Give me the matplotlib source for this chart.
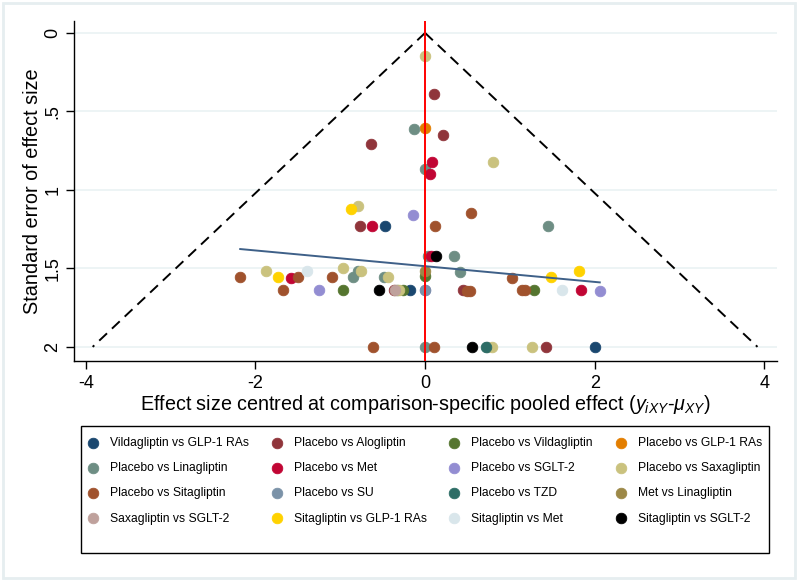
import numpy as np
import matplotlib
matplotlib.use("Agg")
import matplotlib.pyplot as plt
from matplotlib.patches import Rectangle

plt.rcParams['font.family'] = ['Liberation Sans', 'DejaVu Sans']
plt.rcParams['mathtext.fontset'] = 'custom'
plt.rcParams['mathtext.rm'] = 'Liberation Sans'
plt.rcParams['mathtext.it'] = 'Liberation Sans:italic'
plt.rcParams['axes.unicode_minus'] = False

# comparison groups in legend (row) order, with Stata s2color colours
labels = [
    "Vildagliptin vs GLP-1 RAs", "Placebo vs Alogliptin", "Placebo vs Vildagliptin", "Placebo vs GLP-1 RAs",
    "Placebo vs Linagliptin", "Placebo vs Met", "Placebo vs SGLT-2", "Placebo vs Saxagliptin",
    "Placebo vs Sitagliptin", "Placebo vs SU", "Placebo vs TZD", "Met vs Linagliptin",
    "Saxagliptin vs SGLT-2", "Sitagliptin vs GLP-1 RAs", "Sitagliptin vs Met", "Sitagliptin vs SGLT-2",
]
colors = [
    "#1a476f", "#90353b", "#55752f", "#e37e00",
    "#6e8e84", "#c10534", "#938dd2", "#cac27e",
    "#a0522d", "#7b92a8", "#2d6d66", "#9c8847",
    "#bfa19c", "#ffd200", "#d9e6eb", "#000000",
]

# centred effect sizes (x) and standard errors (y) per group
vild_glp_x = [-0.47, -0.18, 2.00]
vild_glp_y = [1.23, 1.64, 2.00]
alo_x = [0.10, 0.21, -0.64, -0.77, -0.37, 0.45, 1.43]
alo_y = [0.39, 0.65, 0.71, 1.23, 1.64, 1.64, 2.00]
vild_x = [-0.97, -0.33, -0.26, 0.00, 1.28]
vild_y = [1.64, 1.64, 1.64, 1.55, 1.64]
glp_x = [0.00]
glp_y = [0.605]
lina_x = [-0.13, 0.00, 1.45, 0.03, 0.34, 0.41, -0.85, -0.79, -0.48, 0.00, 0.73]
lina_y = [0.61, 0.87, 1.23, 1.42, 1.42, 1.52, 1.555, 1.515, 1.555, 2.00, 2.00]
met_x = [0.08, 0.06, -0.63, 0.07, -1.58, 1.84]
met_y = [0.82, 0.90, 1.23, 1.42, 1.56, 1.64]
sglt_x = [-0.14, -1.25, 0.00, 2.06]
sglt_y = [1.16, 1.64, 1.64, 1.645]
saxa_x = [0.00, 0.80, -0.79, -1.88, -0.97, -0.76, -0.44, -0.31, 0.79, 1.26]
saxa_y = [0.146, 0.82, 1.10, 1.515, 1.50, 1.515, 1.555, 1.64, 2.00, 2.00]
sita_x = [0.54, 0.12, -2.18, -1.50, -1.68, -1.10, 1.03, 0.49, 0.53, 1.14, 1.18, -0.61, 0.11]
sita_y = [1.15, 1.23, 1.555, 1.553, 1.64, 1.555, 1.56, 1.645, 1.645, 1.64, 1.64, 2.00, 2.00]
su_x = [0.00]
su_y = [1.64]
tzd_x = [0.72]
tzd_y = [2.00]
met_lina_x = [0.00]
met_lina_y = [1.515]
saxa_sglt_x = [-0.35]
saxa_sglt_y = [1.64]
sita_glp_x = [-0.87, -1.73, 1.48, 1.82]
sita_glp_y = [1.12, 1.555, 1.553, 1.515]
sita_met_x = [-1.39, 1.61]
sita_met_y = [1.516, 1.64]
sita_sglt_x = [0.13, -0.54, 0.55]
sita_sglt_y = [1.42, 1.64, 2.00]

xs = [vild_glp_x, alo_x, vild_x, glp_x, lina_x, met_x, sglt_x, saxa_x,
      sita_x, su_x, tzd_x, met_lina_x, saxa_sglt_x, sita_glp_x, sita_met_x, sita_sglt_x]
ys = [vild_glp_y, alo_y, vild_y, glp_y, lina_y, met_y, sglt_y, saxa_y,
      sita_y, su_y, tzd_y, met_lina_y, saxa_sglt_y, sita_glp_y, sita_met_y, sita_sglt_y]

# small-study effect regression line (x on se)
reg_intercept = 1.486
reg_slope = 0.0501
se_max = 2.0

fig = plt.figure(figsize=(7.97, 5.80), dpi=100)
ax = fig.add_axes([74 / 797, 1 - 361 / 580, (777 - 74) / 797, (361 - 21) / 580])

handles = []
for x, y, c, lab in zip(xs, ys, colors, labels):
    h = ax.scatter(x, y, s=58, color=c, edgecolors=c, linewidths=0.6, zorder=3, label=lab)
    handles.append(h)

# pseudo confidence limits
se = np.array([0, se_max])
ax.plot(-1.96 * se, se, color="black", lw=1.4, ls=(0, (5.5, 3.5)), zorder=2)
ax.plot(1.96 * se, se, color="black", lw=1.4, ls=(0, (5.5, 3.5)), zorder=2)

all_x = np.concatenate([np.array(v) for v in xs])
rx = np.array([all_x.min(), all_x.max()])
ax.plot(rx, reg_intercept + reg_slope * rx, color="#3e6088", lw=1.4, zorder=4)

ax.axvline(0, color="red", lw=1.4, zorder=5)

ax.set_xlim(-4.14, 4.15)
ax.set_ylim(2.09, -0.076)
ax.set_xticks([-4, -2, 0, 2, 4])
ax.set_yticks([0, 0.5, 1, 1.5, 2])
ax.set_yticklabels(["0", ".5", "1", "1.5", "2"], rotation=90, va="center")
ax.tick_params(axis="both", labelsize=13, length=6, width=1, direction="out")
ax.tick_params(axis="x", pad=4)
ax.tick_params(axis="y", pad=3)
ax.yaxis.grid(True, color="#eaf2f3", lw=1.2)
ax.set_axisbelow(True)
for s in ["top", "right"]:
    ax.spines[s].set_visible(False)
ax.spines["left"].set_linewidth(1)
ax.spines["bottom"].set_linewidth(1)

ax.set_xlabel("Effect size centred at comparison-specific pooled effect ($y_{iXY}$-$\\mu_{XY}$)",
              fontsize=14.2, labelpad=1)
ax.set_ylabel("Standard error of effect size", fontsize=14.3, labelpad=2)

# legend: matplotlib fills columns first, so reorder the row-wise list
order = [r * 4 + c for c in range(4) for r in range(4)]
leg = fig.legend([handles[i] for i in order], [labels[i] for i in order],
                 ncol=4, loc="upper left", bbox_to_anchor=(84.6 / 797, 1 - 437 / 580),
                 frameon=False, fontsize=8.7, handlelength=1.4, handletextpad=0.7,
                 columnspacing=1.6, labelspacing=1.09, borderpad=0, borderaxespad=0,
                 scatterpoints=1)
for h in leg.legend_handles:
    h.set_sizes([58])

fig.patches.append(Rectangle((81 / 797, 1 - 553 / 580), (769 - 81) / 797, (553 - 426) / 580,
                             transform=fig.transFigure, fill=False, ec="black", lw=1))
fig.patches.append(Rectangle((2.5 / 797, 2.5 / 580), 792 / 797, 575 / 580,
                             transform=fig.transFigure, fill=False, ec="#e6eef0", lw=2))

fig.savefig("out.png", dpi=100)
